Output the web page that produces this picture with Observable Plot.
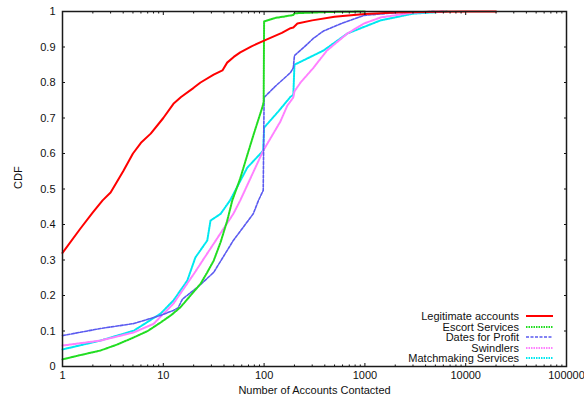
<!DOCTYPE html>
<html><head><meta charset="utf-8">
<script src="https://cdn.jsdelivr.net/npm/d3@7"></script>
<script src="https://cdn.jsdelivr.net/npm/@observablehq/plot@0.6"></script>
<style>
body{margin:0;background:#fff;}
#wrap{position:relative;width:584px;height:401px;font-family:"Liberation Sans",Arial,sans-serif;}
#legend{position:absolute;right:31px;top:311px;font-size:11px;line-height:10.5px;color:#111;}
#legend .row{display:flex;justify-content:flex-end;align-items:center;height:10.5px;}
#legend svg{margin-left:7px;}
</style>
</head><body><div id="wrap"></div>
<script>
const seriesNames = ["Legitimate accounts","Escort Services","Dates for Profit","Swindlers","Matchmaking Services"];
const seriesColors = ["#ff0000","#22dd22","#5a5af0","#ff80ff","#00e8f0"];
const seriesDash = [null,"1.5,1","3,1.5","1.5,1","1.5,1"];
const seriesWidth = [2,2,1.6,2,2];

const legitX = [1,1.5,2,2.5,3,4,5,6,7.5,10,12.6,15,20,23.4,31.6,36,38.6,43,50,58,75,100,150,183,195,214,300,500,1000,2000,5000,10000,20000];
const legitY = [0.32,0.388,0.434,0.468,0.49,0.55,0.60,0.63,0.656,0.70,0.74,0.759,0.785,0.80,0.822,0.83,0.834,0.856,0.872,0.885,0.902,0.918,0.94,0.953,0.955,0.966,0.975,0.985,0.993,0.997,0.999,1.0,1.0];

const escortX = [1,1.5,2.38,3.5,5.1,7,9.4,12,14.8,18,23.4,27,31.6,37,43,48.4,58,68,80,96,99,100,130,195,200,300,500,1000];
const escortY = [0.02,0.032,0.045,0.062,0.082,0.10,0.124,0.145,0.167,0.195,0.233,0.263,0.298,0.35,0.41,0.468,0.53,0.595,0.66,0.73,0.745,0.972,0.982,0.99,0.995,0.997,0.999,1.0];

const datesX = [1,2.38,5.1,9.4,12.6,14,15.5,21.8,31.6,49.5,78,88,98,100,130,183,195,200,250,310,388,570,975,2100,5000];
const datesY = [0.087,0.107,0.121,0.144,0.158,0.165,0.19,0.223,0.265,0.355,0.43,0.468,0.496,0.758,0.79,0.828,0.842,0.876,0.9,0.925,0.945,0.965,0.989,0.997,1.0];

const swindX = [1,2.38,5.1,8,12.6,20,31.6,49.5,58,98,145,170,195,200,230,310,420,670,975,1430,3000,6000];
const swindY = [0.059,0.073,0.096,0.12,0.177,0.26,0.346,0.43,0.468,0.608,0.69,0.735,0.758,0.775,0.80,0.842,0.89,0.938,0.966,0.983,0.997,1.0];

const matchX = [1,2.38,5.1,9.4,12.6,17.3,20.8,27.3,29.4,37,46,68,98,100,140,183,195,200,388,670,1430,3000,6600];
const matchY = [0.048,0.073,0.101,0.149,0.186,0.242,0.307,0.355,0.411,0.43,0.468,0.56,0.608,0.673,0.72,0.76,0.765,0.85,0.89,0.938,0.975,0.994,1.0];

const xTicks = [1,10,100,1000,10000,100000];
const xTickLabels = ["1","10","100","1000","10000","100000"];
const yTicks = [0,0.1,0.2,0.3,0.4,0.5,0.6,0.7,0.8,0.9,1];
const yTickLabels = ["0","0.1","0.2","0.3","0.4","0.5","0.6","0.7","0.8","0.9","1"];

const allX = [legitX, escortX, datesX, swindX, matchX];
const allY = [legitY, escortY, datesY, swindY, matchY];

const minorX = [];
for (let d = 1; d < 100000; d *= 10) for (let k = 2; k <= 9; k++) minorX.push(d * k);

const xLabel = d => xTickLabels[xTicks.findIndex(t => Math.abs(t - d) < 1e-9 * t + 1e-9)];
const yLabel = d => yTickLabels[yTicks.findIndex(t => Math.abs(t - d) < 1e-9)];

const lineMarks = allX.map((xs, i) => Plot.line(xs.map((x, j) => ({x, y: allY[i][j]})), {
  x: "x", y: "y", stroke: seriesColors[i], strokeWidth: seriesWidth[i],
  strokeDasharray: seriesDash[i], curve: "linear"
}));

const chart = Plot.plot({
  width: 584, height: 401,
  marginLeft: 62, marginRight: 18, marginTop: 11, marginBottom: 35,
  style: {fontFamily: "'Liberation Sans', Arial, sans-serif", fontSize: "11px", color: "#111", background: "#fff"},
  x: {type: "log", domain: [1, 100000]},
  y: {domain: [0, 1]},
  marks: [
    ...lineMarks.slice(1).reverse(),
    lineMarks[0],
    Plot.axisX(xTicks, {anchor: "bottom", tickSize: -3, tickPadding: 8, tickFormat: xLabel, label: null}),
    Plot.axisX(xTicks, {anchor: "top", tickSize: -3, fill: "none", label: null}),
    Plot.axisX(minorX, {anchor: "bottom", tickSize: -1.5, fill: "none", label: null}),
    Plot.axisX(minorX, {anchor: "top", tickSize: -1.5, fill: "none", label: null}),
    Plot.axisY(yTicks, {anchor: "left", tickSize: -3, tickPadding: 10, tickFormat: yLabel, label: null}),
    Plot.axisY(yTicks, {anchor: "right", tickSize: -3, fill: "none", label: null}),
    Plot.frame({stroke: "#1a1a1a", strokeWidth: 1.5}),
    Plot.text(["Number of Accounts Contacted"], {frameAnchor: "bottom", dy: 27, text: d => d, fill: "#111", fontSize: 11}),
    Plot.text(["CDF"], {frameAnchor: "left", dx: -44, rotate: -90, text: d => d, fill: "#111", fontSize: 11})
  ]
});

const wrap = document.getElementById("wrap");
wrap.appendChild(chart);
const leg = document.createElement("div");
leg.id = "legend";
seriesNames.forEach((name, i) => {
  const row = document.createElement("div");
  row.className = "row";
  const span = document.createElement("span");
  span.textContent = name;
  row.appendChild(span);
  const s = d3.create("svg").attr("width", 27).attr("height", 6);
  s.append("line").attr("x1", 0).attr("x2", 27).attr("y1", 3).attr("y2", 3)
    .attr("stroke", seriesColors[i]).attr("stroke-width", seriesWidth[i])
    .attr("stroke-dasharray", seriesDash[i]);
  row.appendChild(s.node());
  leg.appendChild(row);
});
wrap.appendChild(leg);
</script></body></html>
